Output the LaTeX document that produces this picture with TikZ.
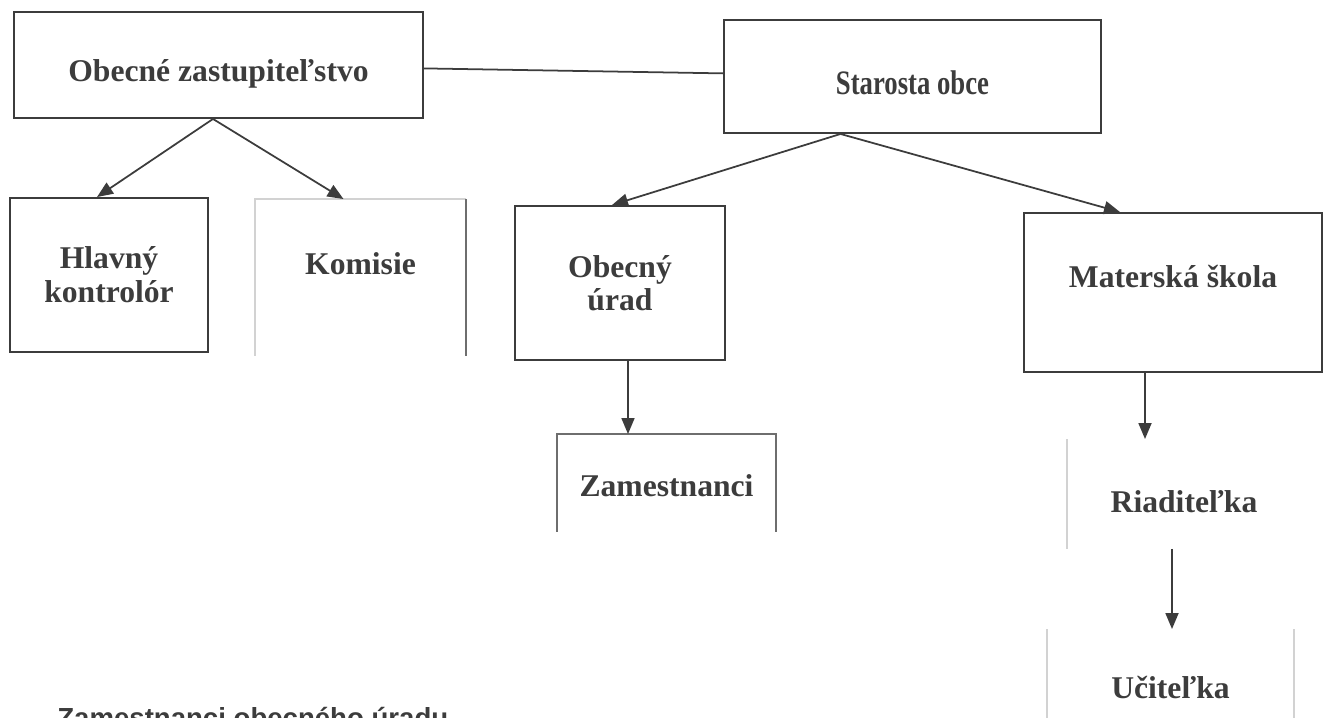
\documentclass[tikz,border=0pt]{standalone}
\usepackage{fontspec}
\setmainfont{Liberation Serif}
\newfontfamily\narrowserif[FakeStretch=0.78]{Liberation Serif}
\newfontfamily\notesans{Liberation Sans}
\usetikzlibrary{arrows.meta}
\definecolor{inkgray}{HTML}{3c3c3c}
\definecolor{fadegray}{HTML}{d2d2d2}
\definecolor{midgray}{HTML}{6e6e6e}

\tikzset{
  orgbox/.style={draw=inkgray, line width=1.1pt, inner sep=0pt, align=center,
    text=inkgray, font=\fontsize{18}{20}\selectfont\bfseries},
  openbox/.style={orgbox, draw=none},
  link/.style={-{Triangle[length=0.32cm, width=0.26cm]}, line width=1pt, inkgray},
}

\begin{document}
\begin{tikzpicture}
\useasboundingbox (0,0) rectangle (26.52,-14.36);

\node[orgbox, minimum width=8.18cm, minimum height=2.12cm, text height=0.68cm, text depth=0cm] (zast) at (4.37,-1.30) {Obecné zastupiteľstvo};
\node[orgbox, minimum width=7.54cm, minimum height=2.26cm, text height=0.72cm, text depth=0cm,
  font=\fontsize{19.5}{20}\narrowserif\bfseries] (starosta) at (18.25,-1.53) {Starosta obce};

\node[orgbox, minimum width=3.96cm, minimum height=3.08cm, font=\fontsize{18}{19.5}\selectfont\bfseries] (hlavny) at (2.18,-5.50) {Hlavný\\kontrolór};
\node[openbox, minimum width=4.18cm, minimum height=3.10cm, text height=0.5cm, text depth=0.6cm] (komisie) at (7.21,-5.55) {Komisie};
\node[orgbox, minimum width=4.20cm, minimum height=3.08cm, font=\fontsize{18}{19}\selectfont\bfseries] (urad) at (12.40,-5.66) {Obecný\\úrad};
\node[orgbox, minimum width=5.96cm, minimum height=3.18cm, text height=0.5cm, text depth=0.68cm] (skola) at (23.46,-5.85) {Materská škola};

\node[openbox, minimum width=4.34cm, minimum height=1.92cm, text height=0.56cm, text depth=0cm] (zamest) at (13.33,-9.66) {Zamestnanci};
\node[openbox, minimum width=4.64cm, minimum height=2.16cm, text height=0.76cm, text depth=0cm] (riad) at (23.68,-9.88) {Riaditeľka};
\node[openbox, minimum width=4.90cm, minimum height=2.32cm] (ucit) at (23.41,-13.76) {Učiteľka};

% faint edges of the open boxes
\draw[fadegray, line width=0.8pt] (komisie.south west) -- (komisie.north west) -- (komisie.north east);
\draw[midgray, line width=1pt] (komisie.north east) -- (komisie.south east);
\draw[midgray, line width=0.9pt] (zamest.south west) -- (zamest.north west) -- (zamest.north east) -- (zamest.south east);
\draw[fadegray, line width=0.8pt] (riad.north west) -- (riad.south west);
\draw[fadegray, line width=0.8pt] (ucit.north west) -- (ucit.south west);
\draw[fadegray, line width=0.8pt] (ucit.north east) -- (ucit.south east);

\draw[line width=1pt, inkgray] (zast) -- (starosta);

\draw[link] ([xshift=-0.11cm]zast.south) -- ([xshift=-0.24cm]hlavny.north);
\draw[link] ([xshift=-0.11cm]zast.south) -- ([xshift=-0.34cm]komisie.north);
\draw[link] ([xshift=-1.44cm]starosta.south) -- ([xshift=-0.16cm]urad.north);
\draw[link] ([xshift=-1.44cm]starosta.south) -- ([xshift=-1.06cm]skola.north);
\draw[link] ([xshift=0.16cm]urad.south) -- ([xshift=0.16cm]urad.south |- zamest.north);
\draw[link] ([xshift=-0.56cm]skola.south) -- ([xshift=-0.56cm]skola.south |- riad.north);
\draw[link] ([xshift=-0.24cm]riad.south) -- ([xshift=-0.24cm]riad.south |- ucit.north);

\node[anchor=base west, inner sep=0pt, text=inkgray, font=\fontsize{15.7}{18}\notesans\bfseries] (note) at (1.14,-14.56) {Zamestnanci obecného úradu};

\end{tikzpicture}
\end{document}
